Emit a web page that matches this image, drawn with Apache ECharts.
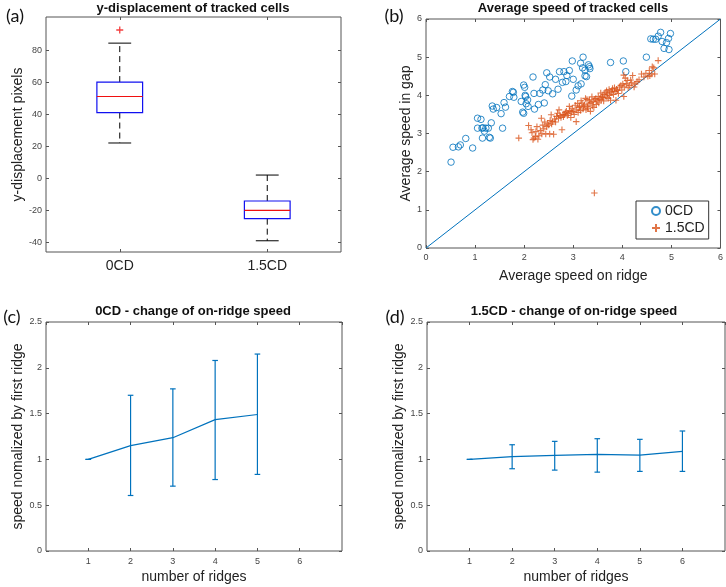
<!DOCTYPE html>
<html>
<head>
<meta charset="utf-8">
<script src="https://cdn.jsdelivr.net/npm/echarts@6/dist/echarts.min.js"></script>
<style>html,body{margin:0;padding:0;background:#fff;}#main{width:726px;height:587px;}</style>
</head>
<body>
<div id="main"></div>
<script>
// ---------- Data ----------
const boxCategories = ['0CD', '1.5CD'];
const boxLowerWhisker = [22, -39];
const boxQ1 = [41, -25.2];
const boxMedian = [51, -20];
const boxQ3 = [60, -14.2];
const boxUpperWhisker = [84.3, 2];
const boxOutliers = [[0, 92.5]];
const dispTicks = [-40, -20, 0, 20, 40, 60, 80];

const speed0CD = [
 [0.51,2.25],[0.55,2.64],[0.66,2.65],[0.70,2.70],[0.81,2.87],[0.95,2.62],
 [1.05,3.40],[1.12,3.37],[1.05,3.14],[1.14,3.14],[1.16,3.15],[1.15,2.88],[1.19,3.06],[1.22,3.14],[1.27,3.14],
 [1.29,2.90],[1.31,2.88],[1.33,3.28],[1.35,3.72],[1.37,3.64],[1.44,3.68],[1.53,3.52],[1.56,3.14],[1.59,3.81],
 [1.62,3.69],[1.70,3.97],[1.76,4.10],[1.78,4.08],[1.79,3.95],
 [1.94,3.84],[1.97,3.56],[1.99,3.53],[1.99,4.27],[2.01,4.21],[2.02,4.00],[2.03,3.97],[2.04,3.78],[2.07,3.88],[2.08,3.71],
 [2.18,4.48],[2.20,4.05],[2.21,3.64],[2.29,3.76],[2.32,4.05],[2.38,4.14],[2.41,3.80],[2.43,4.28],[2.46,4.59],
 [2.49,4.12],[2.52,4.48],[2.58,4.04],[2.64,4.42],[2.69,4.16],[2.72,4.62],[2.78,4.34],[2.81,4.62],[2.85,4.36],
 [2.87,4.52],[2.92,4.65],[2.97,3.98],[2.98,4.90],[3.00,4.42],[3.06,4.14],[3.10,4.25],[3.15,4.84],[3.16,4.30],
 [3.19,4.72],[3.20,5.00],[3.24,4.66],[3.24,4.51],[3.27,4.49],[3.31,4.80],[3.33,4.75],[3.34,4.70],
 [3.76,4.86],[4.02,4.90],[4.07,4.62],
 [4.49,5.00],[4.58,5.48],[4.63,5.47],[4.68,5.47],[4.73,5.55],[4.78,5.65],[4.81,5.41],[4.85,5.23],[4.90,5.38],
 [4.94,5.49],[4.95,5.20],[4.98,5.62]
];
const speed15CD = [
 [1.89,2.88],[2.09,3.21],[2.14,3.10],[2.16,3.02],[2.18,2.84],[2.20,2.88],[2.23,2.92],[2.24,3.05],[2.26,3.18],
 [2.28,2.85],[2.30,2.94],[2.33,3.08],[2.35,3.40],[2.36,2.99],[2.38,3.22],[2.40,3.12],[2.42,3.30],[2.44,2.99],
 [2.46,3.18],[2.48,3.27],[2.50,3.22],[2.52,2.99],[2.53,3.34],[2.55,3.49],[2.56,3.25],[2.58,3.31],[2.60,2.98],
 [2.62,3.38],[2.64,3.30],[2.66,3.45],[2.68,3.53],[2.70,3.40],[2.71,3.62],[2.73,3.47],[2.75,3.42],[2.77,3.10],
 [2.79,3.50],[2.80,3.44],[2.82,3.49],[2.84,3.55],[2.86,3.58],[2.88,3.47],[2.90,3.52],[2.92,3.71],[2.93,3.60],
 [2.95,3.42],[2.96,3.56],[2.98,3.66],[3.00,3.58],[3.02,3.50],[3.04,3.74],[3.06,3.31],[3.07,3.62],[3.09,3.79],
 [3.10,3.55],[3.12,3.68],[3.13,3.71],[3.15,3.60],[3.16,3.86],[3.18,3.80],[3.20,3.64],[3.21,3.72],[3.23,3.75],
 [3.25,3.92],[3.26,3.62],[3.28,3.89],[3.29,3.70],[3.30,3.66],[3.32,3.78],[3.33,3.87],[3.35,3.58],[3.36,3.81],
 [3.38,3.96],[3.39,3.72],[3.41,3.84],[3.42,3.68],[3.44,3.90],[3.46,3.92],[3.47,3.76],[3.49,3.86],[3.51,3.97],
 [3.52,3.80],[3.54,3.90],[3.56,4.06],[3.57,3.88],[3.59,3.98],[3.60,3.94],[3.62,3.85],[3.63,4.02],[3.65,4.08],
 [3.67,3.95],[3.68,4.12],[3.70,4.04],[3.71,3.92],[3.73,4.15],[3.74,4.00],[3.76,3.87],[3.77,4.08],[3.79,4.11],
 [3.80,4.18],[3.82,4.02],[3.84,4.20],[3.85,4.10],[3.87,3.87],[3.88,4.16],[3.90,4.13],[3.92,4.05],[3.94,4.22],
 [3.97,4.26],[3.99,4.14],[4.01,4.30],[4.03,4.53],[4.03,3.97],[4.04,4.22],[4.06,4.45],[4.08,4.30],[4.10,4.39],
 [4.12,4.20],[4.15,4.26],[4.17,4.40],[4.19,4.33],[4.21,4.52],[4.24,4.22],[4.26,4.30],[4.30,4.36],[4.34,4.41],
 [4.39,4.56],[4.44,4.48],[4.48,4.58],[4.52,4.50],[4.55,4.65],[4.56,4.51],[4.60,4.56],[4.61,4.75],[4.64,4.72],
 [4.66,4.56],[4.73,4.91],[3.43,1.44]
];
const identityLine = [[0, 0], [6, 6]];

const ridges0CD = [1, 2, 3, 4, 5];
const mean0CD = [1.00, 1.15, 1.237, 1.434, 1.49];
const low0CD = [1.00, 0.606, 0.708, 0.78, 0.836];
const high0CD = [1.00, 1.70, 1.77, 2.08, 2.15];

const ridges15CD = [1, 2, 3, 4, 5, 6];
const mean15CD = [1.00, 1.03, 1.044, 1.055, 1.047, 1.088];
const low15CD = [1.00, 0.898, 0.883, 0.861, 0.869, 0.869];
const high15CD = [1.00, 1.16, 1.197, 1.226, 1.219, 1.31];

// ---------- Style constants ----------
const BLUE = '#0072BD', ORANGE = '#D95319';
const AX = '#555', LBL = '#444', NAME = '#222';
const FONT = '"Liberation Sans", Arial, sans-serif';

const chart = echarts.init(document.getElementById('main'), null, {renderer: 'canvas'});

const gridCommon = {show: true, borderColor: AX, borderWidth: 1, backgroundColor: 'transparent', containLabel: false};
const grids = [
  Object.assign({left: 46, top: 17, width: 295, height: 235}, gridCommon),
  Object.assign({left: 426, top: 19, width: 295, height: 229}, gridCommon),
  Object.assign({left: 46, top: 322, width: 296, height: 229}, gridCommon),
  Object.assign({left: 427, top: 322, width: 298, height: 229}, gridCommon)
];

const noLine = {show: false, onZero: false};
const tick = {show: true, inside: true, length: 3, lineStyle: {color: AX, width: 1}};
const lab = (m) => ({color: LBL, fontSize: 9, fontFamily: FONT, margin: m});
const nameStyle = {color: NAME, fontSize: 14, fontFamily: FONT};

function valAxis(gridIndex, pos, min, max, interval, opts) {
  return Object.assign({
    type: 'value', gridIndex, position: pos, min, max, interval,
    axisLine: noLine, axisTick: tick, splitLine: {show: false},
    axisLabel: lab(4)
  }, opts || {});
}

const xAxes = [
  {type: 'category', gridIndex: 0, position: 'bottom', data: boxCategories, boundaryGap: true,
   axisLine: noLine, axisTick: Object.assign({alignWithLabel: true}, tick), splitLine: {show: false},
   axisLabel: {color: NAME, fontSize: 14, fontFamily: FONT, margin: 7}},
  {type: 'category', gridIndex: 0, position: 'top', data: boxCategories, boundaryGap: true,
   axisLine: noLine, axisTick: Object.assign({alignWithLabel: true}, tick), axisLabel: {show: false}},
  valAxis(1, 'bottom', 0, 6, 1, {name: 'Average speed on ridge', nameLocation: 'middle', nameGap: 21, nameTextStyle: nameStyle, axisLabel: lab(5)}),
  valAxis(1, 'top', 0, 6, 1, {axisLabel: {show: false}}),
  valAxis(2, 'bottom', 0, 7, 1, {name: 'number of ridges', nameLocation: 'middle', nameGap: 19, nameTextStyle: nameStyle,
    axisLabel: Object.assign(lab(6), {showMinLabel: false, showMaxLabel: false})}),
  valAxis(2, 'top', 0, 7, 1, {axisLabel: {show: false}}),
  valAxis(3, 'bottom', 0, 7, 1, {name: 'number of ridges', nameLocation: 'middle', nameGap: 19, nameTextStyle: nameStyle,
    axisLabel: Object.assign(lab(6), {showMinLabel: false, showMaxLabel: false})}),
  valAxis(3, 'top', 0, 7, 1, {axisLabel: {show: false}})
];

const yAxes = [
  {type: 'value', gridIndex: 0, position: 'left', min: -46, max: 100.6,
   axisLine: noLine, splitLine: {show: false},
   axisTick: Object.assign({customValues: dispTicks}, tick),
   axisLabel: Object.assign({customValues: dispTicks}, lab(4)),
   name: 'y-displacement pixels', nameLocation: 'middle', nameGap: 13, nameTextStyle: nameStyle},
  {type: 'value', gridIndex: 0, position: 'right', min: -46, max: 100.6,
   axisLine: noLine, splitLine: {show: false},
   axisTick: Object.assign({customValues: dispTicks}, tick),
   axisLabel: {show: false}},
  valAxis(1, 'left', 0, 6, 1, {name: 'Average speed in gap', nameLocation: 'middle', nameGap: 8, nameTextStyle: nameStyle}),
  valAxis(1, 'right', 0, 6, 1, {axisLabel: {show: false}}),
  valAxis(2, 'left', 0, 2.5, 0.5, {name: 'speed nomalized by first ridge', nameLocation: 'middle', nameGap: 16, nameTextStyle: nameStyle}),
  valAxis(2, 'right', 0, 2.5, 0.5, {axisLabel: {show: false}}),
  valAxis(3, 'left', 0, 2.5, 0.5, {name: 'speed nomalized by first ridge', nameLocation: 'middle', nameGap: 16, nameTextStyle: nameStyle}),
  valAxis(3, 'right', 0, 2.5, 0.5, {axisLabel: {show: false}})
];

// ---------- Build series data ----------
const boxData = boxCategories.map((c, i) => [i, boxLowerWhisker[i], boxQ1[i], boxMedian[i], boxQ3[i], boxUpperWhisker[i]]);
const err0 = ridges0CD.map((x, i) => [x, low0CD[i], high0CD[i]]);
const err15 = ridges15CD.map((x, i) => [x, low15CD[i], high15CD[i]]);
const line0 = ridges0CD.map((x, i) => [x, mean0CD[i]]);
const line15 = ridges15CD.map((x, i) => [x, mean15CD[i]]);

function renderBox(params, api) {
  const x = api.value(0);
  const lo = api.coord([x, api.value(1)]);
  const q1 = api.coord([x, api.value(2)]);
  const md = api.coord([x, api.value(3)]);
  const q3 = api.coord([x, api.value(4)]);
  const hi = api.coord([x, api.value(5)]);
  const bw = api.size([1, 0])[0] * 0.31;
  const cw = bw * 0.5;
  const cx = md[0];
  const dash = {stroke: '#000', lineWidth: 1, lineDash: [6, 4]};
  const solid = {stroke: '#000', lineWidth: 1};
  return {type: 'group', children: [
    {type: 'line', shape: {x1: cx, y1: q3[1], x2: cx, y2: hi[1]}, style: dash},
    {type: 'line', shape: {x1: cx, y1: q1[1], x2: cx, y2: lo[1]}, style: dash},
    {type: 'line', shape: {x1: cx - cw / 2, y1: hi[1], x2: cx + cw / 2, y2: hi[1]}, style: solid},
    {type: 'line', shape: {x1: cx - cw / 2, y1: lo[1], x2: cx + cw / 2, y2: lo[1]}, style: solid},
    {type: 'rect', shape: {x: cx - bw / 2, y: q3[1], width: bw, height: q1[1] - q3[1]},
     style: {fill: 'none', stroke: '#1010F0', lineWidth: 1.2}},
    {type: 'line', shape: {x1: cx - bw / 2, y1: md[1], x2: cx + bw / 2, y2: md[1]}, style: {stroke: '#F01010', lineWidth: 1.2}}
  ]};
}

function renderErr(params, api) {
  const x = api.value(0);
  const a = api.coord([x, api.value(1)]);
  const b = api.coord([x, api.value(2)]);
  const w = 2.8;
  const st = {stroke: BLUE, lineWidth: 1.2};
  return {type: 'group', children: [
    {type: 'line', shape: {x1: a[0], y1: a[1], x2: b[0], y2: b[1]}, style: st},
    {type: 'line', shape: {x1: a[0] - w, y1: a[1], x2: a[0] + w, y2: a[1]}, style: st},
    {type: 'line', shape: {x1: b[0] - w, y1: b[1], x2: b[0] + w, y2: b[1]}, style: st}
  ]};
}

const PLUS = 'path://M0,5L10,5M5,0L5,10';

const series = [
  {type: 'custom', name: 'box', xAxisIndex: 0, yAxisIndex: 0, renderItem: renderBox, data: boxData,
   encode: {x: 0, y: [1, 2, 3, 4, 5]}, silent: true},
  {type: 'scatter', name: 'outlier', xAxisIndex: 0, yAxisIndex: 0, data: boxOutliers, symbol: PLUS, symbolSize: 7,
   itemStyle: {color: 'transparent', borderColor: '#F01010', borderWidth: 1.3}, silent: true},
  {type: 'line', name: 'identity', xAxisIndex: 2, yAxisIndex: 2, data: identityLine, showSymbol: false, symbol: 'none',
   lineStyle: {color: BLUE, width: 1}, silent: true, z: 1},
  {type: 'scatter', name: '0CD', xAxisIndex: 2, yAxisIndex: 2, data: speed0CD, symbol: 'circle', symbolSize: 6.5,
   itemStyle: {color: 'transparent', borderColor: BLUE, borderWidth: 1}, silent: true},
  {type: 'scatter', name: '1.5CD', xAxisIndex: 2, yAxisIndex: 2, data: speed15CD, symbol: PLUS, symbolSize: 6.5,
   itemStyle: {color: 'transparent', borderColor: ORANGE, borderWidth: 1.1}, silent: true},
  {type: 'line', name: 'mean0', xAxisIndex: 4, yAxisIndex: 4, data: line0, showSymbol: false, symbol: 'none',
   lineStyle: {color: BLUE, width: 1.2}, silent: true},
  {type: 'custom', name: 'err0', xAxisIndex: 4, yAxisIndex: 4, renderItem: renderErr, data: err0, encode: {x: 0, y: [1, 2]}, silent: true},
  {type: 'line', name: 'mean15', xAxisIndex: 6, yAxisIndex: 6, data: line15, showSymbol: false, symbol: 'none',
   lineStyle: {color: BLUE, width: 1.2}, silent: true},
  {type: 'custom', name: 'err15', xAxisIndex: 6, yAxisIndex: 6, renderItem: renderErr, data: err15, encode: {x: 0, y: [1, 2]}, silent: true}
];

const titleFont = 'bold 13px ' + FONT;
const panelFont = '18px Lato, "Open Sans", sans-serif';
function txt(x, y, text, font) {
  return {type: 'text', x, y, silent: true,
    style: {text, font, fill: '#111', textAlign: 'center', textVerticalAlign: 'middle'}};
}

chart.setOption({
  animation: false,
  backgroundColor: '#fff',
  grid: grids,
  xAxis: xAxes,
  yAxis: yAxes,
  legend: {
    data: [{name: '0CD', icon: 'circle'}, {name: '1.5CD', icon: PLUS}],
    orient: 'vertical', left: 636, top: 201,
    padding: [3, 4, 4, 15], itemGap: 3, itemWidth: 8, itemHeight: 8, itemTextGap: 11,
    borderColor: '#333', borderWidth: 1, backgroundColor: '#fff',
    textStyle: {fontSize: 14, color: NAME, fontFamily: FONT},
    selectedMode: false
  },
  graphic: [
    txt(193, 8, 'y-displacement of tracked cells', titleFont),
    txt(573, 8, 'Average speed of tracked cells', titleFont),
    txt(193, 311, '0CD - change of on-ridge speed', titleFont),
    txt(574, 311, '1.5CD - change of on-ridge speed', titleFont),
    txt(15, 16, '(a)', panelFont),
    txt(394, 16, '(b)', panelFont),
    txt(12, 317, '(c)', panelFont),
    txt(395, 317, '(d)', panelFont)
  ],
  series
});
</script>
</body>
</html>
